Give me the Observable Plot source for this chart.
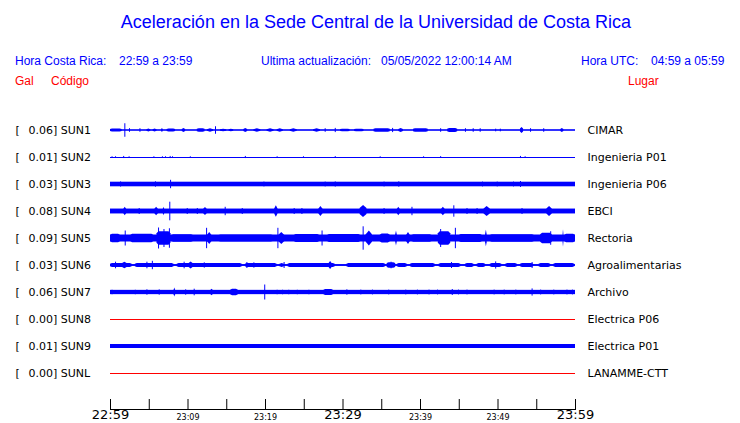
<!DOCTYPE html>
<html><head><meta charset="utf-8">
<script src="https://cdn.jsdelivr.net/npm/d3@7"></script>
<script src="https://cdn.jsdelivr.net/npm/@observablehq/plot@0.6"></script>
<style>
body{margin:0;background:#fff;}
#c{position:relative;width:740px;height:423px;overflow:hidden;font-family:"Liberation Sans",Arial,sans-serif;}
.t{position:absolute;white-space:pre;line-height:1;}
#c svg{position:absolute;left:0;top:0;}
</style></head><body><div id="c"></div>
<script>
// ---- data ----
const codes  = ["SUN1","SUN2","SUN3","SUN4","SUN5","SUN6","SUN7","SUN8","SUN9","SUNL"];
const peaks  = [0.06, 0.01, 0.03, 0.08, 0.09, 0.03, 0.06, 0.00, 0.01, 0.00];
const places = ["CIMAR","Ingenieria P01","Ingenieria P06","EBCI","Rectoria","Agroalimentarias","Archivo","Electrica P06","Electrica P01","LANAMME-CTT"];
// background noise half-amplitude (gal) per station
const bases  = [0.002, 0, 0.012, 0.013, 0.02, 0.003, 0.011, 0, 0.01, 0];
// bursts: [start minute, end minute, half-amplitude gal], minutes after 22:59
const sun1 = [[0,1.5,0.01],[1.85,1.85,0.045],[2.45,2.45,0.012],[3.8,3.8,0.012],[4.7,5.2,0.01],[5.5,6.0,0.01],[6.6,6.8,0.013],[7.3,8.4,0.01],[9.25,9.7,0.013],[11.2,12.2,0.011],[12.5,13.3,0.011],[13.55,13.55,0.025],[14.2,15.0,0.009],[15.3,15.9,0.009],[17.2,17.7,0.013],[18.5,19.4,0.011],[20.2,21.1,0.011],[21.5,22.3,0.011],[23.2,24.1,0.011],[26.2,27.1,0.011],[27.7,27.7,0.012],[29.0,29.0,0.014],[29.7,30.9,0.009],[31.5,32.7,0.009],[34.0,36.1,0.011],[36.4,36.4,0.014],[37.2,37.8,0.013],[39.1,41.0,0.011],[42.6,42.6,0.012],[43.5,44.8,0.013],[45.8,45.8,0.012],[46.8,46.8,0.012],[47.7,47.7,0.012],[49.7,49.7,0.009],[50.3,50.3,0.009],[52.9,53.3,0.02],[54.2,54.2,0.012],[55.9,55.9,0.012],[58.1,58.5,0.013]];
const sun2 = [[0.2,0.2,0.005],[0.65,0.65,0.005],[1.7,1.7,0.007],[2.4,2.4,0.005],[5.6,5.6,0.005],[6.7,6.7,0.005],[7.1,7.1,0.005],[7.7,7.7,0.007],[8.0,8.0,0.005],[10.3,10.3,0.005],[17.4,17.4,0.007],[21.5,21.5,0.005],[24.9,24.9,0.005],[29.0,29.0,0.006],[34.8,34.8,0.005],[40.4,40.4,0.005],[42.6,42.6,0.006],[52.9,52.9,0.007],[53.5,53.5,0.005]];
const sun3 = [[1.3,1.3,0.017],[5.8,5.8,0.018],[7.75,7.75,0.028],[19.8,19.8,0.016],[27.7,27.7,0.016],[29.0,29.0,0.017],[35.3,35.3,0.016],[37.2,37.2,0.018],[48.0,48.0,0.016],[49.9,49.9,0.016],[52.0,52.0,0.016],[52.9,52.9,0.02]];
const sun4 = [[1.7,2.1,0.028],[3.7,3.7,0.02],[5.7,6.2,0.028],[6.8,7.0,0.028],[7.65,7.65,0.062],[9.9,9.9,0.02],[11.2,11.2,0.02],[12.0,12.5,0.026],[14.8,14.8,0.028],[17.0,17.0,0.02],[21.2,21.6,0.038],[23.7,23.7,0.02],[24.7,24.7,0.02],[26.9,27.4,0.033],[32.2,33.1,0.04],[35.3,35.3,0.02],[37.0,37.4,0.028],[38.9,38.9,0.028],[42.7,43.2,0.028],[44.3,44.3,0.038],[46.0,46.0,0.02],[47.3,47.3,0.02],[48.2,49.0,0.033],[53.1,53.1,0.02],[56.3,57.0,0.033]];
const sun5 = [[0,1.3,0.028],[1.9,1.9,0.05],[2.6,5.6,0.028],[6.0,7.8,0.045],[6.2,6.2,0.07],[6.9,6.9,0.06],[7.6,7.6,0.065],[7.9,10.7,0.025],[12.4,12.4,0.068],[12.5,13.1,0.04],[14.0,21.0,0.023],[21.6,21.6,0.068],[21.7,22.5,0.04],[23.7,27.0,0.026],[27.3,27.3,0.05],[28.0,32.3,0.026],[32.6,32.6,0.078],[33.0,33.8,0.05],[34.8,36.1,0.03],[36.8,37.0,0.05],[38.2,38.7,0.04],[38.9,41.5,0.025],[42.3,43.9,0.045],[42.6,42.6,0.06],[44.5,44.5,0.068],[45.0,48.0,0.027],[48.4,48.6,0.055],[49.0,54.7,0.025],[55.5,57.0,0.035],[56.8,56.8,0.045],[58.4,58.5,0.058],[58.6,60,0.028]];
const sun6 = [[0,2.8,0.013],[3.2,8.2,0.013],[8.6,17.0,0.013],[17.4,21.5,0.013],[21.8,22.5,0.013],[22.9,29.0,0.013],[30.5,35.5,0.013],[35.7,36.8,0.018],[37.0,38.3,0.013],[38.7,41.9,0.013],[42.4,45.2,0.013],[45.8,46.9,0.013],[47.3,48.4,0.013],[49.0,50.5,0.013],[51.0,52.5,0.013],[52.9,54.6,0.013],[55.3,56.8,0.013],[57.2,59.9,0.013],[0.65,0.65,0.022],[1.5,2.2,0.022],[4.7,4.7,0.022],[5.4,5.4,0.028],[9.5,9.5,0.022],[10.1,10.7,0.024],[12.1,12.1,0.018],[17.6,17.6,0.02],[18.5,18.5,0.018],[22.4,22.4,0.02],[28.2,28.6,0.026],[36.2,36.2,0.022],[44.0,44.0,0.02],[49.7,49.7,0.024],[54.4,54.4,0.02]];
const sun7 = [[0.2,0.2,0.015],[3.2,3.2,0.015],[4.7,4.7,0.018],[6.2,6.5,0.018],[8.2,8.4,0.03],[9.7,9.7,0.018],[10.8,10.8,0.022],[12.9,13.3,0.022],[15.5,16.5,0.022],[19.9,19.9,0.05],[21.5,21.5,0.015],[22.2,22.2,0.015],[23.0,23.0,0.015],[24.1,24.1,0.015],[25.6,25.6,0.015],[27.5,28.8,0.02],[30.5,30.5,0.018],[32.3,32.3,0.016],[33.8,33.8,0.016],[35.9,35.9,0.016],[38.1,38.1,0.016],[39.6,39.6,0.016],[41.1,41.1,0.016],[42.2,42.2,0.016],[44.1,44.1,0.02],[44.9,44.9,0.016],[46.0,46.0,0.016],[49.5,49.5,0.016],[50.8,50.8,0.016],[52.3,52.3,0.016],[54.4,54.4,0.024],[55.5,55.5,0.016],[57.2,57.2,0.016],[58.9,58.9,0.016],[59.6,59.6,0.016]];
const sun8 = [];
const sun9 = [];
const sunl = [];
const bursts = [sun1, sun2, sun3, sun4, sun5, sun6, sun7, sun8, sun9, sunl];
const tickMinutes = [0,5,10,15,20,25,30,35,40,45,50,55,60];
const labelMinutes = [0,10,20,30,40,50,60];
const tickLabels = ["22:59","23:09","23:19","23:29","23:39","23:49","23:59"];
const span = [0, 60];

// ---- header (HTML) ----
const c = document.getElementById("c");
function put(txt, left, top, size, color, extra) {
  const d = document.createElement("div");
  d.className = "t"; d.textContent = txt;
  d.style.left = left + "px"; d.style.top = top + "px";
  d.style.fontSize = size + "px"; d.style.color = color;
  if (extra) Object.assign(d.style, extra);
  c.appendChild(d);
}
put("Aceleración en la Sede Central de la Universidad de Costa Rica", 0, 13, 18, "#0000ff", {width: "752px", textAlign: "center"});
put("Hora Costa Rica:", 15, 55, 12, "#0000ff");
put("22:59 a 23:59", 119, 55, 12, "#0000ff");
put("Ultima actualización:", 261, 55, 12, "#0000ff");
put("05/05/2022 12:00:14 AM", 381, 55, 12, "#0000ff");
put("Hora UTC:", 581, 55, 12, "#0000ff");
put("04:59 a 05:59", 651, 55, 12, "#0000ff");
put("Gal", 15, 75, 12, "#ff0000");
put("Código", 51, 75, 12, "#ff0000");
put("Lugar", 628, 75, 12, "#ff0000");

// ---- build tables ----
const ROW = 0.18;
const rows = codes.map((code, i) => ({
  code, place: places[i], peak: peaks[i], y: -i * ROW, base: bases[i],
  color: peaks[i] === 0 ? "#ff0000" : "#0000ff"
}));
const spikes = [], shapes = [];
let id = 0;
rows.forEach((r, i) => {
  bursts[i].forEach(([t0, t1, a]) => {
    if (t1 === t0) { spikes.push({x: t0, y1: r.y - a, y2: r.y + a, color: r.color}); return; }
    const w = t1 - t0, k = id++;
    const pts = w < 1
      ? [[t0, 0.5], [(t0 + t1) / 2, 1], [t1, 0.5]]
      : [[t0, 0.7], [t0 + 0.25, 1], [t1 - 0.25, 1], [t1, 0.7]];
    pts.forEach(([x, f]) => shapes.push({id: k, x, lo: r.y - Math.max(a * f, r.base), hi: r.y + Math.max(a * f, r.base), color: r.color}));
  });
});
const ticks = labelMinutes.map((m, i) => ({m, label: tickLabels[i], major: i % 3 === 0}));

const chart = Plot.plot({
  width: 740, height: 423,
  marginLeft: 110, marginRight: 165, marginTop: 110, marginBottom: 14,
  x: {domain: span, axis: null},
  y: {domain: [-(codes.length - 1) * ROW, 0], range: [373, 130], axis: null},
  style: {background: "transparent", fontFamily: "'DejaVu Sans', sans-serif", color: "black"},
  marks: [
    // background noise band
    Plot.rect(rows.filter(d => d.base > 0), {x1: () => span[0], x2: () => span[1], y1: d => d.y - d.base, y2: d => d.y + d.base,
      fill: d => d.color, insetTop: -0.5, insetBottom: -0.5}),
    Plot.ruleY(rows.filter(d => d.base === 0), {y: "y", x1: () => span[0], x2: () => span[1], stroke: d => d.color, strokeWidth: 1}),
    // bursts
    Plot.area(shapes, {x1: "x", y1: "lo", y2: "hi", z: "id", fill: d => d.color, curve: "linear"}),
    Plot.ruleX(spikes, {x: "x", y1: "y1", y2: "y2", stroke: d => d.color, strokeWidth: 1}),
    // labels
    Plot.text(rows, {y: "y", text: () => "[", frameAnchor: "left", dx: -95, textAnchor: "start", fontSize: 11, fill: "black"}),
    Plot.text(rows, {y: "y", text: d => `${d.peak.toFixed(2)}] ${d.code}`, frameAnchor: "left", dx: -82, textAnchor: "start", fontSize: 11, fill: "black"}),
    Plot.text(rows, {y: "y", text: "place", frameAnchor: "right", dx: 12, textAnchor: "start", fontSize: 11, fill: "black"}),
    // time axis
    Plot.frame({anchor: "bottom", stroke: "black"}),
    Plot.ruleX(tickMinutes, {x: d => d, insetTop: 289, stroke: "black"}),
    Plot.text(ticks.filter(d => d.major), {x: "m", text: "label", frameAnchor: "bottom", dy: 9, fontSize: 13, fill: "black"}),
    Plot.text(ticks.filter(d => !d.major), {x: "m", text: "label", frameAnchor: "bottom", dy: 10, fontSize: 8, fill: "black"})
  ]
});
c.appendChild(chart);
</script>
</body></html>
